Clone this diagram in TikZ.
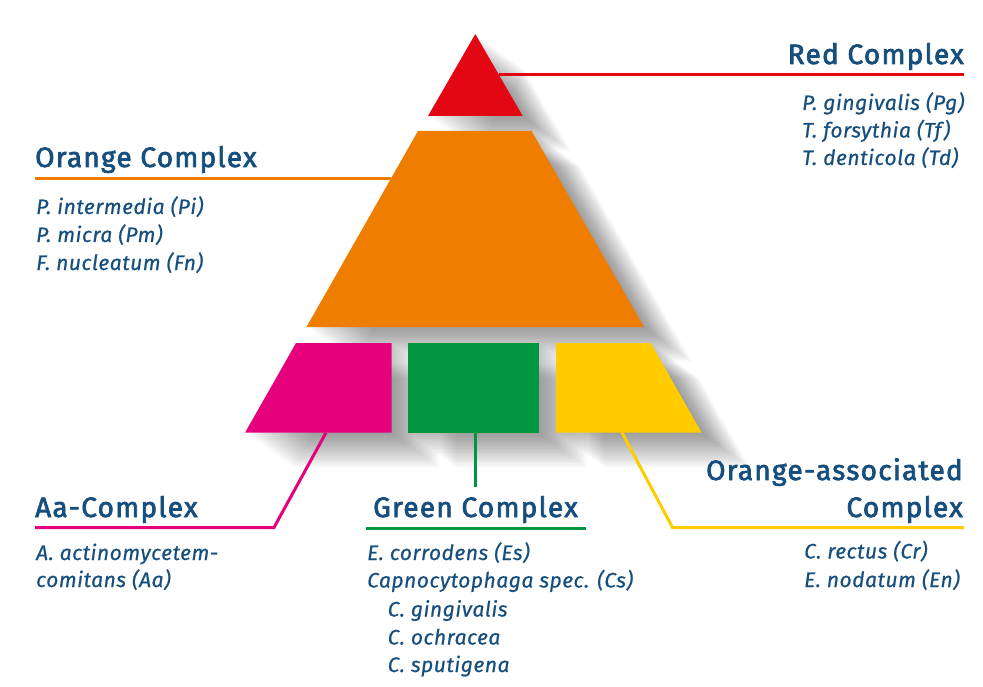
\documentclass[tikz,border=0pt]{standalone}
\usepackage{fontspec}
\setmainfont{Fira Sans}
\newfontfamily\headfont{Fira Sans}[FakeBold=2.5,LetterSpace=4.5]
\newfontfamily\itemfont{Fira Sans}[FakeBold=0.6,LetterSpace=2.5]
\definecolor{cRed}{RGB}{227,6,19}
\definecolor{cOrange}{RGB}{239,125,0}
\definecolor{cPink}{RGB}{229,0,125}
\definecolor{cGreen}{RGB}{0,150,64}
\definecolor{cYellow}{RGB}{255,204,0}
\definecolor{cText}{RGB}{22,78,125}
\newcommand\pyrshadow[1]{\foreach \k in {1,...,24}{\fill[black,opacity=0.02,shift={(2*\k,1.45*\k)}] #1;}}
\tikzset{
  head/.style={inner sep=0pt,text=cText,font=\headfont\fontsize{28}{30}\selectfont},
  item/.style={inner sep=0pt,text=cText,font=\itemfont\itshape\fontsize{21}{22}\selectfont},
  link/.style={line width=3pt,line cap=butt,line join=miter}
}
\begin{document}
\begin{tikzpicture}[x=1pt,y=-1pt]
\useasboundingbox (0,0) rectangle (983,687);
% shadows
\pyrshadow{(475.3,34) -- (522.7,116) -- (428,116) -- cycle}
\pyrshadow{(418,131) -- (531.5,131) -- (644,327) -- (306.5,327) -- cycle}
\pyrshadow{(296,343) -- (391.7,343) -- (391.7,432.7) -- (245,432.7) -- cycle}
\pyrshadow{(408.3,343) rectangle (539,432.7)}
\pyrshadow{(556,343) -- (650.7,343) -- (701.7,432.7) -- (556,432.7) -- cycle}
% shapes
\fill[cRed] (475.3,34) -- (522.7,116) -- (428,116) -- cycle;
\fill[cOrange] (418,131) -- (531.5,131) -- (644,327) -- (306.5,327) -- cycle;
\fill[cPink] (296,343) -- (391.7,343) -- (391.7,432.7) -- (245,432.7) -- cycle;
\fill[cGreen] (408.3,343) rectangle (539,432.7);
\fill[cYellow] (556,343) -- (650.7,343) -- (701.7,432.7) -- (556,432.7) -- cycle;
% connector points
\coordinate (r1) at (499,75);
\coordinate (r2) at (964,75);
\coordinate (o1) at (391,179);
\coordinate (o2) at (35,179);
\coordinate (p1) at (326,432.7);
\coordinate (p2) at (274,527.5);
\coordinate (p3) at (35,527.5);
\coordinate (g1) at (475,432.7);
\coordinate (g2) at (475,487);
\coordinate (g3) at (366,528);
\coordinate (g4) at (586,528);
\coordinate (y1) at (622,432.7);
\coordinate (y2) at (672.5,527.5);
\coordinate (y3) at (964,527.5);
\draw[link,cRed] (r1) -- (r2);
\draw[link,cOrange] (o1) -- (o2);
\draw[link,cPink] (p1) -- (p2) -- (p3);
\draw[link,cGreen] (g1) -- (g2);
\draw[link,cGreen] (g3) -- (g4);
\draw[link,cYellow] (y1) -- (y2) -- (y3);
% texts
\node[head,anchor=base east] (redh) at (964,64) {Red Complex};
\node[item,anchor=base west] (red1) at (802,110) {P. gingivalis (Pg)};
\node[item,anchor=base west] (red2) at (802,137.5) {T. forsythia (Tf)};
\node[item,anchor=base west] (red3) at (802,165) {T. denticola (Td)};
\node[head,anchor=base west] (orh) at (35,167) {Orange Complex};
\node[item,anchor=base west] (or1) at (36,214) {P. intermedia (Pi)};
\node[item,anchor=base west] (or2) at (36,242) {P. micra (Pm)};
\node[item,anchor=base west] (or3) at (36,270) {F. nucleatum (Fn)};
\node[head,anchor=base west] (aah) at (35,517) {Aa-Complex};
\node[item,anchor=base west] (aa1) at (36,560) {A. actinomycetem-};
\node[item,anchor=base west] (aa2) at (36,587) {comitans (Aa)};
\node[head,anchor=base west] (grh) at (373,517) {Green Complex};
\node[item,anchor=base west] (gr1) at (367,560) {E. corrodens (Es)};
\node[item,anchor=base west] (gr2) at (367,587.5) {Capnocytophaga spec. (Cs)};
\node[item,anchor=base west] (gr3) at (387.5,616.5) {C. gingivalis};
\node[item,anchor=base west] (gr4) at (387.5,644.5) {C. ochracea};
\node[item,anchor=base west] (gr5) at (387.5,672) {C. sputigena};
\node[head,anchor=base east] (yeh1) at (963,480) {Orange-associated};
\node[head,anchor=base east] (yeh2) at (963,517) {Complex};
\node[item,anchor=base west] (ye1) at (804,558.5) {C. rectus (Cr)};
\node[item,anchor=base west] (ye2) at (804,587) {E. nodatum (En)};
\end{tikzpicture}
\end{document}
